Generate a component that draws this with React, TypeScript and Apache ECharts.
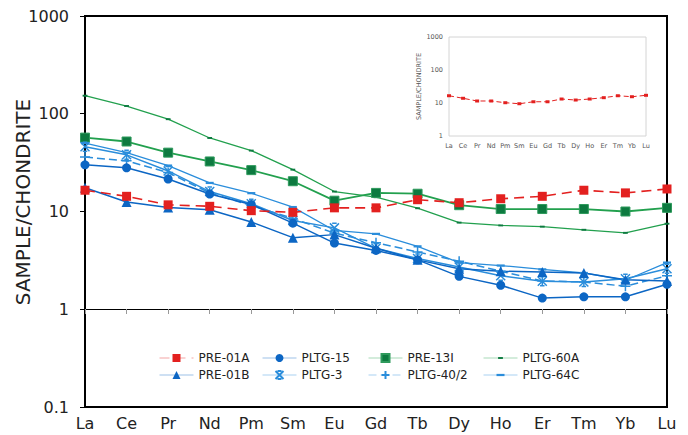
import { useEffect, useRef } from 'react';
import * as echarts from 'echarts';

const categories = ['La', 'Ce', 'Pr', 'Nd', 'Pm', 'Sm', 'Eu', 'Gd', 'Tb', 'Dy', 'Ho', 'Er', 'Tm', 'Yb', 'Lu'];

const pre01A = [16.5, 14.3, 11.7, 11.3, 10.2, 9.8, 10.9, 10.9, 13.2, 12.3, 13.5, 14.3, 16.5, 15.5, 17];
const pre01B = [17.5, 12.5, 11, 10.4, 7.8, 5.4, 5.8, 4.2, 3.2, 2.6, 2.45, 2.4, 2.35, 2.0, 1.95];
const pltg15 = [30, 28, 21.5, 15.1, 11.8, 7.6, 4.75, 4.0, 3.2, 2.17, 1.76, 1.3, 1.34, 1.34, 1.8];
const pltg3 = [46, 38, 26, 16, 12, 8.1, 6.8, 4.2, 3.3, 2.7, 2.2, 1.93, 1.9, 2.05, 2.6];
const pre13I = [57, 52, 40, 32.5, 26.5, 20.4, 12.9, 15.5, 15.2, 11.6, 10.6, 10.6, 10.6, 10.0, 10.9];
const pltg402 = [36, 33, 25, 15.5, 11.5, 8.5, 6.0, 4.8, 3.85, 3.1, 2.45, 1.95, 1.9, 1.72, 2.2];
const pltg60A = [153, 120, 88, 56.5, 42, 26.8, 16, 14, 10.8, 7.7, 7.2, 7.0, 6.5, 6.05, 7.5];
const pltg64C = [50, 40, 29.5, 19.6, 15.4, 11.1, 6.4, 5.9, 4.4, 3.0, 2.8, 2.56, 2.35, 1.98, 3.0];

const insetValues = [16.6, 13.9, 11.5, 11.5, 10.2, 9.5, 10.9, 10.9, 13.2, 12.3, 13.2, 14.5, 16.6, 15.5, 17.1];

const FONT = 'DejaVu Sans, Verdana, sans-serif';
const RED = '#e3201f';
const DKGREEN = '#0d7a40';
const GREEN = '#22a04e';
const DKBLUE = '#0c66c4';
const BLUE = '#2a8ddb';

const X_SYMBOL = 'path://M0,0L10,10M10,0L0,10M2.5,0L7.5,0M2.5,10L7.5,10';
const PLUS_SYMBOL = 'path://M5,0L5,10M0,5L10,5';
const DASH_SYMBOL = 'path://M0,0M10,10M0,3.6L10,3.6L10,6.4L0,6.4Z';
const SMALL_DASH_SYMBOL = 'path://M0,0M10,10M2,3.8L8,3.8L8,6.2L2,6.2Z';

function line(name: string, data: number[], color: string, symbol: string, symbolSize: any, opts: any = {}) {
  return {
    name,
    type: 'line',
    xAxisIndex: 0,
    yAxisIndex: 0,
    data,
    symbol,
    symbolSize,
    showSymbol: true,
    lineStyle: { color: opts.lineColor || color, width: opts.width || 1.5, type: opts.lineType || 'solid' },
    itemStyle: {
      color: opts.fill || color,
      borderColor: opts.border || color,
      borderWidth: opts.borderWidth ?? 0,
    },
    z: opts.z || 2,
  };
}

const fmt = (v: number) => String(v);

export default function App() {
  const ref = useRef<HTMLDivElement>(null);
  useEffect(() => {
    const chart = echarts.init(ref.current!, null, { renderer: 'svg' });
    const legendBase = {
      orient: 'vertical',
      top: 347,
      itemWidth: 34,
      itemHeight: 10,
      itemGap: 5,
      textStyle: { fontFamily: FONT, fontSize: 12, color: '#222' },
      lineStyle: { width: 1, opacity: 0.4 },
      selectedMode: false,
    };
    chart.setOption({
      animation: false,
      backgroundColor: '#fff',
      textStyle: { fontFamily: FONT },
      legend: [
        { ...legendBase, left: 154, data: ['PRE-01A', 'PRE-01B'] },
        { ...legendBase, left: 257, data: ['PLTG-15', 'PLTG-3'] },
        { ...legendBase, left: 363, data: ['PRE-13I', 'PLTG-40/2'] },
        { ...legendBase, left: 478, data: ['PLTG-60A', 'PLTG-64C'] },
      ],
      graphic: [
        {
          type: 'text', x: 23, y: 202, rotation: Math.PI / 2,
          style: { text: 'SAMPLE/CHONDRITE', fontSize: 20, fill: '#222', fontFamily: FONT, align: 'center', verticalAlign: 'middle' },
        },
      ],
      grid: [
        { left: 85, top: 16, right: 21, bottom: 28, show: true, borderColor: '#000', borderWidth: 2, backgroundColor: 'transparent' },
        { left: 449, top: 37, width: 197, height: 99, show: true, borderColor: '#d4d4d4', borderWidth: 1, backgroundColor: '#fff' },
      ],
      xAxis: [
        {
          type: 'category', gridIndex: 0, data: categories, boundaryGap: false,
          axisLine: { show: true, lineStyle: { color: '#000', width: 2 } },
          axisTick: { show: false },
          axisLabel: { fontSize: 16, color: '#222', margin: 8, fontFamily: FONT },
        },
        {
          type: 'category', gridIndex: 0, data: categories, boundaryGap: false, position: 'bottom', offset: -98,
          axisLine: { show: true, lineStyle: { color: '#000', width: 1 } },
          axisTick: { show: true, length: 5, lineStyle: { color: '#999' } },
          axisLabel: { show: false },
        },
        {
          type: 'category', gridIndex: 1, data: categories, boundaryGap: false,
          axisLine: { show: false },
          axisTick: { show: false },
          axisLabel: { fontSize: 6.5, color: '#555', margin: 6, fontFamily: FONT },
        },
      ],
      yAxis: [
        {
          type: 'log', gridIndex: 0, logBase: 10, min: 0.1, max: 1000,
          axisLine: { show: true, lineStyle: { color: '#000', width: 2 } },
          axisTick: { show: true, length: 5, lineStyle: { color: '#000' } },
          splitLine: { show: false },
          minorTick: { show: false },
          axisLabel: { fontSize: 16, color: '#222', margin: 16, fontFamily: FONT, formatter: fmt },
        },
        {
          type: 'log', gridIndex: 1, logBase: 10, min: 1, max: 1000,
          axisLine: { show: false },
          axisTick: { show: false },
          splitLine: { show: false },
          axisLabel: { fontSize: 6.5, color: '#555', margin: 6, fontFamily: FONT, formatter: fmt },
          name: 'SAMPLE/CHONDRITE', nameLocation: 'middle', nameGap: 22,
          nameTextStyle: { fontSize: 6.5, color: '#555', fontFamily: FONT },
        },
      ],
      series: [
        line('PLTG-60A', pltg60A, GREEN, SMALL_DASH_SYMBOL, 8, { width: 1.3, fill: DKGREEN, border: DKGREEN }),
        line('PRE-13I', pre13I, DKGREEN, 'rect', 9, { lineColor: GREEN, border: '#2e9a5c', borderWidth: 1, width: 1.8 }),
        line('PLTG-64C', pltg64C, BLUE, DASH_SYMBOL, 8, { width: 1.3 }),
        line('PLTG-40/2', pltg402, BLUE, PLUS_SYMBOL, 10, { lineType: [8, 4], borderWidth: 1.5, width: 1.5 }),
        line('PLTG-3', pltg3, BLUE, X_SYMBOL, 9, { borderWidth: 1.5, width: 1.5 }),
        line('PLTG-15', pltg15, DKBLUE, 'circle', 9, { width: 1.5 }),
        line('PRE-01B', pre01B, DKBLUE, 'triangle', 10, { width: 1.5 }),
        line('PRE-01A', pre01A, RED, 'rect', 9, { lineType: [10, 6], width: 1.6, z: 3 }),
        {
          name: 'inset', type: 'line', xAxisIndex: 2, yAxisIndex: 1, data: insetValues,
          symbol: 'rect', symbolSize: [4, 3],
          lineStyle: { color: RED, width: 1, type: [5, 3] },
          itemStyle: { color: RED },
        },
      ],
    });
    return () => chart.dispose();
  }, []);
  return <div ref={ref} style={{ position: 'fixed', left: 0, top: 0, width: 688, height: 435, background: '#fff' }} />;
}
